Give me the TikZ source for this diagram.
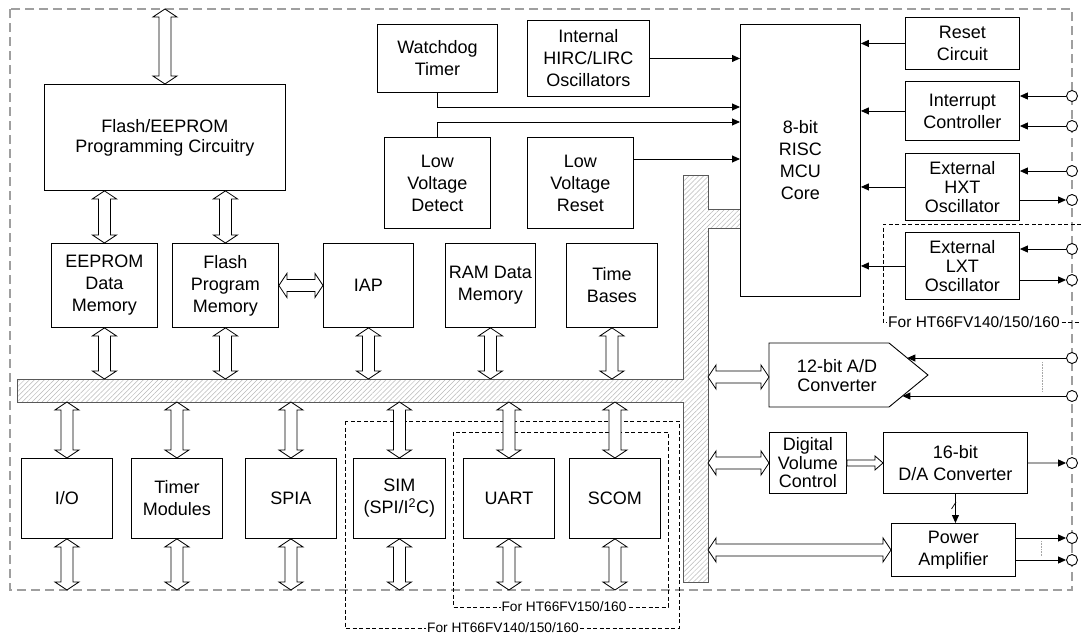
\documentclass[tikz,border=0pt]{standalone}
\usepackage{fontspec}
\setmainfont{Liberation Sans}
\usetikzlibrary{calc,arrows.meta,patterns.meta}

\newcommand\fatboth[2]{%
 \coordinate (fs) at (#1);
 \coordinate (ft) at (#2);
 \coordinate (fa1) at ($(fs)!8pt!(ft)$);
 \coordinate (fa2) at ($(ft)!8pt!(fs)$);
 \draw[fat] (fs) -- ($(fa1)!12pt!90:(ft)$) -- ($(fa1)!6pt!90:(ft)$) -- ($(fa2)!6pt!-90:(fs)$) -- ($(fa2)!12pt!-90:(fs)$) -- (ft) -- ($(fa2)!12pt!90:(fs)$) -- ($(fa2)!6pt!90:(fs)$) -- ($(fa1)!6pt!-90:(ft)$) -- ($(fa1)!12pt!-90:(ft)$) -- cycle;}
\newcommand\fatone[2]{%
 \coordinate (fs) at (#1);
 \coordinate (ft) at (#2);
 \coordinate (fa2) at ($(ft)!8pt!(fs)$);
 \draw[fat] (ft) -- ($(fa2)!7pt!90:(fs)$) -- ($(fa2)!3pt!90:(fs)$) -- ($(fs)!3pt!-90:(ft)$) -- ($(fs)!3pt!90:(ft)$) -- ($(fa2)!3pt!-90:(fs)$) -- ($(fa2)!7pt!-90:(fs)$) -- cycle;}

\begin{document}
\begin{tikzpicture}[x=1pt,y=-1pt,
  box/.style={draw, line width=0.9pt, fill=white, align=center, inner sep=0pt, anchor=north west, font=\fontsize{18}{22}\selectfont},
  fat/.style={draw, fill=white, line width=0.8pt},
  sarr/.style={line width=0.9pt, -{Triangle[length=8pt,width=7pt]}},
  pin/.style={circle, draw, fill=white, minimum size=11pt, inner sep=0pt, line width=0.9pt},
  dsh/.style={line width=0.8pt, dash pattern=on 4pt off 2.5pt},
  dots/.style={gray!70, line width=0.6pt, dash pattern=on 1pt off 0.6pt},
  lbl/.style={fill=white, inner sep=1pt, font=\fontsize{13.7}{15}\selectfont}]
\fill[white] (0,0) rectangle (1081,637);
\useasboundingbox (0,0) rectangle (1081,637);

% outer border
\draw[gray!75, line width=1.3pt, dash pattern=on 9pt off 5pt] (10,9) rectangle (1072,590);

% option dashed boxes
\draw[dsh] (345,421) rectangle (679,628);
\draw[dsh] (453,432) rectangle (668,607);
\node[lbl] at (503,628) {For HT66FV140/150/160};
\node[lbl] at (564,607) {For HT66FV150/160};
\draw[dsh] (1081,224) -- (883,224) -- (883,322) -- (1081,322);
\node[lbl, anchor=west, font=\fontsize{15.5}{17}\selectfont] at (887,322) {For HT66FV140/150/160};

% bus
\draw[line width=0.8pt, draw=gray!70!black, pattern={Lines[angle=45,distance=3.5pt,line width=0.5pt]}, pattern color=gray!55]
  (17,379) -- (683,379) -- (683,175) -- (708,175) -- (708,209) -- (740,209) -- (740,228) -- (708,228)
  -- (708,582) -- (683,582) -- (683,402) -- (17,402) -- cycle;
\coordinate (bustop) at (0,379);
\coordinate (busbot) at (0,402);
\coordinate (busr) at (708,0);
\coordinate (ftop) at (0,9);
\coordinate (fbot) at (0,590);

% boxes
\node[box, minimum width=241, minimum height=106, font=\fontsize{18}{20}\selectfont] (flash) at (44,84) {Flash/EEPROM\\Programming Circuitry};
\node[box, minimum width=106, minimum height=84] (eeprom) at (51,243) {EEPROM\\Data\\Memory};
\node[box, minimum width=106, minimum height=84] (fpm) at (172,243) {Flash\\Program\\Memory};
\node[box, minimum width=90, minimum height=84] (iap) at (323,243) {IAP};
\node[box, minimum width=90, minimum height=84] (ram) at (445,243) {RAM Data\\Memory};
\node[box, minimum width=91, minimum height=84] (tb) at (566,243) {Time\\Bases};
\node[box, minimum width=120, minimum height=68] (wdt) at (377,24) {Watchdog\\Timer};
\node[box, minimum width=122, minimum height=76] (hirc) at (527,20) {Internal\\HIRC/LIRC\\Oscillators};
\node[box, minimum width=106, minimum height=91] (lvd) at (384,137) {Low\\Voltage\\Detect};
\node[box, minimum width=106, minimum height=91] (lvr) at (527,137) {Low\\Voltage\\Reset};
\node[box, minimum width=120, minimum height=272] (mcu) at (740,24) {8-bit\\RISC\\MCU\\Core};
\node[box, minimum width=114, minimum height=52] (reset) at (905,17) {Reset\\Circuit};
\node[box, minimum width=114, minimum height=59] (intc) at (905,81) {Interrupt\\Controller};
\node[box, minimum width=114, minimum height=67, font=\fontsize{18}{19}\selectfont] (hxt) at (905,153) {External\\HXT\\Oscillator};
\node[box, minimum width=114, minimum height=67, font=\fontsize{18}{19}\selectfont] (lxt) at (905,232) {External\\LXT\\Oscillator};
\node[box, minimum width=91, minimum height=80] (io) at (21,458) {I/O};
\node[box, minimum width=91, minimum height=80] (tm) at (131,458) {Timer\\Modules};
\node[box, minimum width=91, minimum height=80] (spia) at (245,458) {SPIA};
\node[box, minimum width=92, minimum height=80] (sim) at (353,458) {SIM\\(SPI/I\textsuperscript{2}C)};
\node[box, minimum width=91, minimum height=80] (uart) at (463,458) {UART};
\node[box, minimum width=91, minimum height=80] (scom) at (569,458) {SCOM};
\node[box, minimum width=77, minimum height=61, font=\fontsize{18}{18.5}\selectfont] (dvc) at (769,432) {Digital\\Volume\\Control};
\node[box, minimum width=144, minimum height=61] (dac) at (883,432) {16-bit\\D/A Converter};
\node[box, minimum width=124, minimum height=53] (pa) at (891,523) {Power\\Amplifier};

% ADC pentagon
\draw[line width=0.9pt, fill=white] (769,343) -- (889,343) -- (928,375) -- (889,407) -- (769,407) -- cycle;
\node[align=center, inner sep=0pt, font=\fontsize{18}{19}\selectfont] (adc) at (837,376) {12-bit A/D\\Converter};
\coordinate (adcw) at (769,377);
\coordinate (adcin1) at (907.3,358);
\coordinate (adcin2) at (902.4,396);

% pins
\node[pin] (pi1) at (1072,96) {};
\node[pin] (pi2) at (1072,126) {};
\node[pin] (ph1) at (1072,171) {};
\node[pin] (ph2) at (1072,200) {};
\node[pin] (pl1) at (1072,249) {};
\node[pin] (pl2) at (1072,280) {};
\node[pin] (pa1) at (1072,358) {};
\node[pin] (pa2) at (1072,396) {};
\node[pin] (pd) at (1072,463) {};
\node[pin] (pp1) at (1072,538) {};
\node[pin] (pp2) at (1072,560) {};

% MCU inputs
\coordinate (mw1) at (740,107);
\coordinate (mw2) at (740,122);
\coordinate (mw3) at (740,159);
\draw[sarr] (hirc.east) -- (hirc.east -| mcu.west);
\draw[sarr] (wdt.south) |- (mw1);
\draw[sarr] (lvd.north) |- (mw2);
\draw[sarr] (lvr.east |- mw3) -- (mw3);
\draw[sarr] (reset.west) -- (reset.west -| mcu.east);
\draw[sarr] (intc.west) -- (intc.west -| mcu.east);
\draw[sarr] (hxt.west) -- (hxt.west -| mcu.east);
\draw[sarr] (lxt.west) -- (lxt.west -| mcu.east);

% pin connections
\draw[sarr] (pi1) -- (pi1 -| intc.east);
\draw[sarr] (pi2) -- (pi2 -| intc.east);
\draw[sarr] (ph1) -- (ph1 -| hxt.east);
\draw[sarr] (ph2 -| hxt.east) -- (ph2);
\draw[sarr] (pl1) -- (pl1 -| lxt.east);
\draw[sarr] (pl2 -| lxt.east) -- (pl2);
\draw[sarr] (pa1) -- (adcin1);
\draw[sarr] (pa2) -- (adcin2);
\draw[sarr] (dac.east) -- (pd);
\draw[sarr] (pp1 -| pa.east) -- (pp1);
\draw[sarr] (pp2 -| pa.east) -- (pp2);
\draw[sarr] (dac.south) -- (dac.south |- pa.north);
\draw[line width=0.7pt] (951.5,509) -- (956,502);
\draw[dots] (1042,362) -- (1042,392);
\draw[dots] (1041,541) -- (1041,556);

% fat arrows
\fatboth{flash.north}{flash.north |- ftop}
\fatboth{eeprom.north}{eeprom.north |- flash.south}
\fatboth{fpm.north}{fpm.north |- flash.south}
\fatboth{fpm.east}{iap.west}
\fatboth{eeprom.south}{eeprom.south |- bustop}
\fatboth{fpm.south}{fpm.south |- bustop}
\fatboth{iap.south}{iap.south |- bustop}
\fatboth{ram.south}{ram.south |- bustop}
\fatboth{tb.south}{tb.south |- bustop}
\foreach \n in {io,tm,spia,sim,uart,scom}{
  \fatboth{\n.north |- busbot}{\n.north}
  \fatboth{\n.south}{\n.south |- fbot}
}
\fatboth{adcw -| busr}{adcw}
\fatboth{dvc.west -| busr}{dvc.west}
\fatboth{pa.west -| busr}{pa.west}
\fatone{dvc.east}{dac.west}
\end{tikzpicture}
\end{document}
